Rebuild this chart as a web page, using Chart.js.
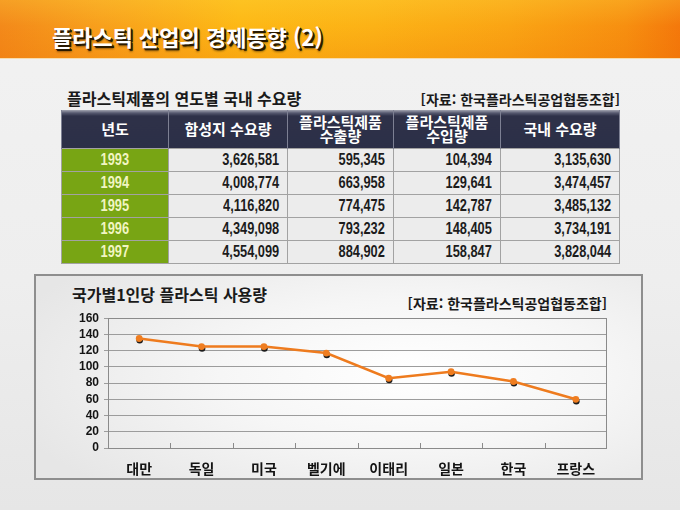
<!DOCTYPE html>
<html lang="ko">
<head>
<meta charset="utf-8">
<title>플라스틱 산업의 경제동향 (2)</title>
<script src="https://cdn.jsdelivr.net/npm/chart.js@4.4.0/dist/chart.umd.min.js"></script>
<style>
    html, body { margin: 0; padding: 0; }
    body {
        width: 680px; height: 510px; overflow: hidden; position: relative;
        font-family: "Noto Sans CJK KR", sans-serif;
        background: linear-gradient(180deg, #f2f2f2 0%, #eeeeee 55%, #e6e6e6 100%);
    }
    #header {
        position: absolute; left: 0; top: 0; width: 680px; height: 58px;
        background:
            linear-gradient(180deg, rgba(255,225,70,0.25) 0%, rgba(255,200,40,0) 45%, rgba(235,110,0,0.22) 100%),
            linear-gradient(90deg, #f3891a 0%, #f8a01c 15%, #fdb815 35%, #fcb216 55%, #faa414 75%, #f78f10 92%, #f4780b 100%);
        border-bottom: 1px solid #f7dcae;
    }
    #header h1 {
        position: absolute; left: 52px; top: 23px; margin: 0;
        font-size: 22px; line-height: 26px; font-weight: 700; color: #fff;
        text-shadow: 1px 1px 0 #2a1a00, 2px 2px 0 #2a1a00, 2px 3px 2px rgba(0,0,0,0.4);
    }
    .caption {
        position: absolute; margin: 0; font-weight: 700; color: #1a1a1a; white-space: nowrap;
    }
    #tblTitle { left: 67px; top: 88px; font-size: 16px; line-height: 20px; }
    #tblSource { right: 60px; top: 90px; font-size: 14px; line-height: 18px; }
    #demand {
        position: absolute; left: 61px; top: 110px; width: 558px;
        border-collapse: collapse; table-layout: fixed;
    }
    #demand th {
        height: 38px; padding: 0; color: #fff; font-size: 15px; line-height: 14px; font-weight: 700;
        background: linear-gradient(180deg, #a3a5b2 0px, #56596f 3px, #2e3149 6px, #2c2f47 100%);
        border-left: 1px solid #7d8093; border-right: 1px solid #7d8093;
    }
    #demand td {
        height: 22px; padding: 0 8px 0 0; text-align: right;
        font-family: "Liberation Sans", Arial, sans-serif;
        font-size: 16px; line-height: 18px; font-weight: 700; color: #1c1c1c;
        background: #ececec; border: 1px solid #a2a2a2;
    }
    #demand td span {
        display: inline-block; transform: scaleX(0.8); transform-origin: 100% 50%;
    }
    #demand td.year {
        text-align: center; padding: 0; background: #78a514; color: #f1f5c2;
    }
    #demand td.year span { transform-origin: 50% 50%; }
    #panel {
        position: absolute; left: 34px; top: 274px; width: 609px; height: 206px;
        box-sizing: border-box; border: 2px solid #8e8e8e;
        background: radial-gradient(ellipse 70% 80% at 62% 48%, #ffffff 0%, #f6f6f6 45%, #e6e6e6 100%);
    }
    #chartTitle { left: 36px; top: 8px; font-size: 16px; line-height: 20px; }
    #chartSource { right: 34px; top: 18px; font-size: 14px; line-height: 18px; }
    #chart { position: absolute; left: 4px; top: 30px; }
</style>
</head>
<body>
<div id="header"><h1>플라스틱 산업의 경제동향 (2)</h1></div>

<p class="caption" id="tblTitle">플라스틱제품의 연도별 국내 수요량</p>
<p class="caption" id="tblSource">[자료: 한국플라스틱공업협동조합]</p>
<table id="demand"></table>

<div id="panel">
    <p class="caption" id="chartTitle">국가별1인당 플라스틱 사용량</p>
    <p class="caption" id="chartSource">[자료: 한국플라스틱공업협동조합]</p>
    <canvas id="chart" width="596" height="172"></canvas>
</div>

<script>
// table data (as printed)
var years = ['1993', '1994', '1995', '1996', '1997'];
var resinDemand = [3626581, 4008774, 4116820, 4349098, 4554099];
var exportQty = [595345, 663958, 774475, 793232, 884902];
var importQty = [104394, 129641, 142787, 148405, 158847];
var domesticDemand = [3135630, 3474457, 3485132, 3734191, 3828044];
var tableHeads = ['년도', '합성지 수요량', '플라스틱제품<br>수출량', '플라스틱제품<br>수입량', '국내 수요량'];
var colWidths = [107, 119, 106, 107, 119];

// chart data
var countries = ['대만', '독일', '미국', '벨기에', '이태리', '일본', '한국', '프랑스'];
var perCapita = [135, 125, 125, 117, 86, 94, 82, 60];
var yMin = 0, yMax = 160, yStep = 20;

function buildTable() {
    var tbl = document.getElementById('demand');
    var html = '<colgroup>';
    for (var c = 0; c < colWidths.length; c++) html += '<col style="width:' + colWidths[c] + 'px">';
    html += '</colgroup><tr>';
    for (var h = 0; h < tableHeads.length; h++) html += '<th>' + tableHeads[h] + '</th>';
    html += '</tr>';
    for (var i = 0; i < years.length; i++) {
        html += '<tr><td class="year"><span>' + years[i] + '</span></td>';
        [resinDemand, exportQty, importQty, domesticDemand].forEach(function (col) {
            html += '<td><span>' + col[i].toLocaleString('en-US') + '</span></td>';
        });
        html += '</tr>';
    }
    tbl.innerHTML = html;
}
buildTable();

// frame, inner category ticks and the dark drop under each marker
const plotDecor = {
    id: 'plotDecor',
    beforeDatasetsDraw: (chart) => {
        const ctx = chart.ctx;
        const a = chart.chartArea;
        const x = chart.scales.x;
        ctx.save();
        ctx.strokeStyle = '#8a8a8a';
        ctx.lineWidth = 1;
        ctx.strokeRect(Math.round(a.left) + 0.5, Math.round(a.top) + 0.5,
            Math.round(a.right - a.left) - 1, Math.round(a.bottom - a.top));
        const half = (x.getPixelForValue(1) - x.getPixelForValue(0)) / 2;
        for (let i = 1; i < countries.length; i++) {
            const px = Math.round(x.getPixelForValue(i) - half) + 0.5;
            ctx.beginPath();
            ctx.moveTo(px, a.bottom);
            ctx.lineTo(px, a.bottom - 5);
            ctx.stroke();
        }
        const meta = chart.getDatasetMeta(0);
        ctx.fillStyle = '#1c1c1c';
        meta.data.forEach((pt) => {
            ctx.beginPath();
            ctx.arc(pt.x + 0.5, pt.y + 1.8, 3.3, 0, Math.PI * 2);
            ctx.fill();
        });
        ctx.restore();
    }
};

var ctx = document.getElementById('chart').getContext('2d');
var myChart = new Chart(ctx, {
    type: 'line',
    data: {
        labels: countries,
        datasets: [{
            label: '1인당 사용량',
            data: perCapita,
            borderColor: '#ee7b1e',
            backgroundColor: '#ee7b1e',
            borderWidth: 2.5,
            pointRadius: 3.4,
            pointBorderWidth: 0,
            pointBackgroundColor: '#ef7d20',
            tension: 0
        }]
    },
    options: {
        responsive: false,
        animation: false,
        layout: { padding: { left: 0, right: 29, top: 3, bottom: 0 } },
        scales: {
            x: {
                offset: true,
                grid: { display: false },
                border: { display: false },
                ticks: {
                    padding: 4,
                    color: '#141414',
                    font: { family: '"Noto Sans CJK KR", sans-serif', size: 14, weight: 'bold' }
                },
                afterFit: (scale) => { scale.height = 30; }
            },
            y: {
                min: yMin,
                max: yMax,
                grid: { color: '#9c9c9c', lineWidth: 1, tickLength: 4 },
                border: { color: '#8a8a8a' },
                ticks: {
                    stepSize: yStep,
                    autoSkip: false,
                    padding: 5,
                    color: '#141414',
                    font: { family: '"Liberation Sans", Arial, sans-serif', size: 12, weight: 'bold' }
                },
                afterFit: (scale) => { scale.width = 68; }
            }
        },
        plugins: {
            legend: { display: false },
            tooltip: { enabled: false }
        }
    },
    plugins: [plotDecor]
});
</script>
</body>
</html>
